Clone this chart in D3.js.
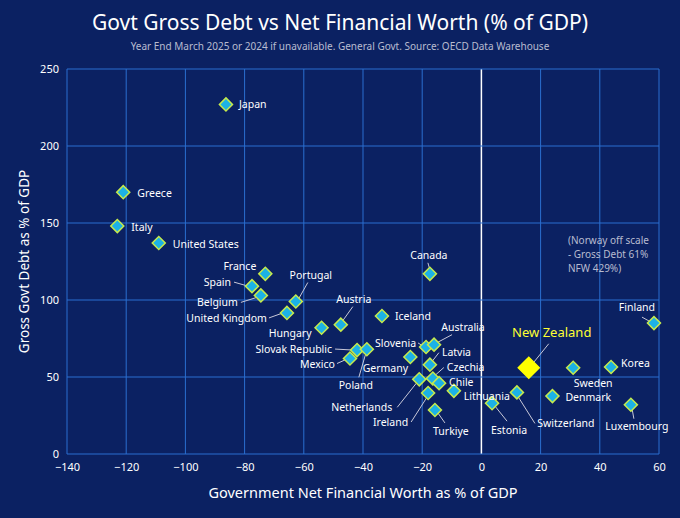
<!DOCTYPE html>
<html><head><meta charset="utf-8">
<script src="https://cdn.jsdelivr.net/npm/d3@7"></script>
<style>body{margin:0;background:#0a1f5c}text{font-family:"Noto Sans",sans-serif}</style>
</head><body><svg id="c" width="680" height="518"></svg>
<script>
const countries = ["Japan","Greece","Italy","United States","France","Spain","Belgium","Portugal","United Kingdom","Hungary","Austria","Iceland","Canada","Slovenia","Australia","Slovak Republic","Mexico","Germany","Poland","Latvia","Czechia","Chile","Netherlands","Ireland","Turkiye","Lithuania","Estonia","Switzerland","New Zealand","Sweden","Denmark","Korea","Luxembourg","Finland"];
const netWorth = [-86.3,-121,-123,-109,-73,-77.5,-74.5,-62.7,-65.7,-54,-47.5,-33.6,-17.4,-18.7,-16,-42,-44.4,-24,-38.7,-17.4,-16.4,-14.3,-21,-18,-15.7,-9.3,3.6,12,16,31,24,43.8,50.5,58.3];
const grossDebt = [227,170,148,137,117,109,103,99,91.6,82,84,89.6,117,69.5,71,67.5,62,63,68,58,49,46,48.5,39.6,28.6,41,33,40,56,56,37.6,56.5,32,85];
const xTicks = [-140,-120,-100,-80,-60,-40,-20,0,20,40,60];
const yTicks = [0,50,100,150,200,250];
// label placement: [dx, dy, anchor, leader x1,y1,x2,y2]
const labelPos = {
  "Japan":[13,4,"start"],"Greece":[14,5,"start"],"Italy":[14,5,"start"],"United States":[14,5,"start"],
  "France":[-9,-4,"end"],"Spain":[-21,0,"end",-18,-4,-4,0],"Belgium":[-23,11,"end",-20,7,-4,2],
  "Portugal":[15,-23,"middle",12,-19,3,-3],"United Kingdom":[-20,9,"end",-18,5,-4,0],
  "Hungary":[-10,9,"end"],"Austria":[13,-22,"middle",12,-18,2,-4],"Iceland":[13,4,"start"],
  "Canada":[-1,-15,"middle",-2,-11,0,-4],"Slovenia":[-10,0,"end",-8,-4,-3,-1],
  "Australia":[29,-14,"middle",18,-10,3,-2],"Slovak Republic":[-25,3,"end",-22,-1,-4,0],
  "Mexico":[-15,9,"end",-13,5,-4,1],"Germany":[-25,15,"middle"],"Poland":[-11,40,"middle",-8,28,-1,4],
  "Latvia":[12,-9,"start",9,-12,2,-3],"Czechia":[14,-8,"start",11,-11,2,-3],"Chile":[10,3,"start"],
  "Netherlands":[-27,32,"end",-22,28,-3,4],"Ireland":[-20,33,"end",-17,29,-1,4],
  "Turkiye":[16,25,"middle",10,13,3,3],"Lithuania":[10,9,"start"],"Estonia":[17,31,"middle",15,18,3,3],
  "Switzerland":[49,35,"middle",18,31,1,4],"New Zealand":[23,-31,"middle",20,-24,3,-3],
  "Sweden":[20,19,"middle"],"Denmark":[13,5,"start"],"Korea":[10,0,"start"],
  "Luxembourg":[6,25,"middle",3,14,1,3],"Finland":[-17,-12,"middle",-12,-6,-3,-1]
};
const data = countries.map((c,i)=>({c,x:netWorth[i],y:grossDebt[i]}));
const svg = d3.select("#c");
const m = {l:67,r:21,t:69,b:64};
const W=680,H=518;
const x = d3.scaleLinear().domain([-140,60]).range([m.l,W-m.r]);
const y = d3.scaleLinear().domain([0,250]).range([H-m.b,m.t]);
svg.append("rect").attr("width",W).attr("height",H).attr("fill","#0b2162");
const g = svg.append("g");
g.selectAll(".vx").data(xTicks).enter().append("line").attr("x1",d=>x(d)).attr("x2",d=>x(d))
  .attr("y1",y(0)).attr("y2",y(250)).attr("stroke",d=>d===0?"#ffffff":"#2a6fd0").attr("stroke-width",d=>d===0?1.5:1);
g.selectAll(".hy").data(yTicks).enter().append("line").attr("y1",d=>y(d)).attr("y2",d=>y(d))
  .attr("x1",x(-140)).attr("x2",x(60)).attr("stroke","#2a6fd0");
const xa = svg.append("g").attr("transform",`translate(0,${y(0)})`).call(d3.axisBottom(x).tickValues(xTicks).tickSize(0).tickPadding(9));
const ya = svg.append("g").attr("transform",`translate(${m.l},0)`).call(d3.axisLeft(y).tickValues(yTicks).tickSize(0).tickPadding(8));
[xa,ya].forEach(a=>{a.select(".domain").remove();a.selectAll("text").attr("fill","#fff").style("font-size","11px");});
// leaders
data.forEach(d=>{
  const p=labelPos[d.c]; if(p.length<4) return;
  const px=x(d.x),py=y(d.y);
  svg.append("line").attr("x1",px+p[3]).attr("y1",py+p[4]).attr("x2",px+p[5]).attr("y2",py+p[6])
    .attr("stroke","#c8c8d8").attr("stroke-width",1);
});
const sym = d3.symbol().type(d3.symbolSquare);
svg.selectAll(".pt").data(data).enter().append("path")
  .attr("d",d=>sym.size(d.c==="New Zealand"?220:85)())
  .attr("transform",d=>`translate(${x(d.x)},${y(d.y)}) rotate(45)`)
  .attr("fill",d=>d.c==="New Zealand"?"#ffff00":"#1cb2e6")
  .attr("stroke",d=>d.c==="New Zealand"?"#ffff00":"#c6ea4c").attr("stroke-width",1.5);
svg.selectAll(".lb").data(data).enter().append("text")
  .attr("x",d=>x(d.x)+labelPos[d.c][0]).attr("y",d=>y(d.y)+labelPos[d.c][1])
  .attr("text-anchor",d=>labelPos[d.c][2])
  .attr("fill",d=>d.c==="New Zealand"?"#ffff33":"#ffffff")
  .style("font-size",d=>d.c==="New Zealand"?"13px":"10.5px").text(d=>d.c);
["(Norway off scale","- Gross Debt 61%","NFW 429%)"].forEach((t,i)=>svg.append("text").attr("x",568).attr("y",244+i*14)
  .attr("fill","#b8bcd0").style("font-size","10px").text(t));
svg.append("text").attr("x",W/2).attr("y",30).attr("text-anchor","middle").attr("fill","#fff").style("font-size","21px").text("Govt Gross Debt vs Net Financial Worth (% of GDP)");
svg.append("text").attr("x",W/2).attr("y",50).attr("text-anchor","middle").attr("fill","#b8bcd0").style("font-size","10px").text("Year End March 2025 or 2024 if unavailable. General Govt. Source: OECD Data Warehouse");
svg.append("text").attr("x",(m.l+W-m.r)/2).attr("y",498).attr("text-anchor","middle").attr("fill","#fff").style("font-size","14.5px").text("Government Net Financial Worth as % of GDP");
svg.append("text").attr("transform",`translate(29,${(y(0)+y(250))/2}) rotate(-90)`).attr("text-anchor","middle").attr("fill","#fff").style("font-size","13.5px").text("Gross Govt Debt as % of GDP");
</script></body></html>
